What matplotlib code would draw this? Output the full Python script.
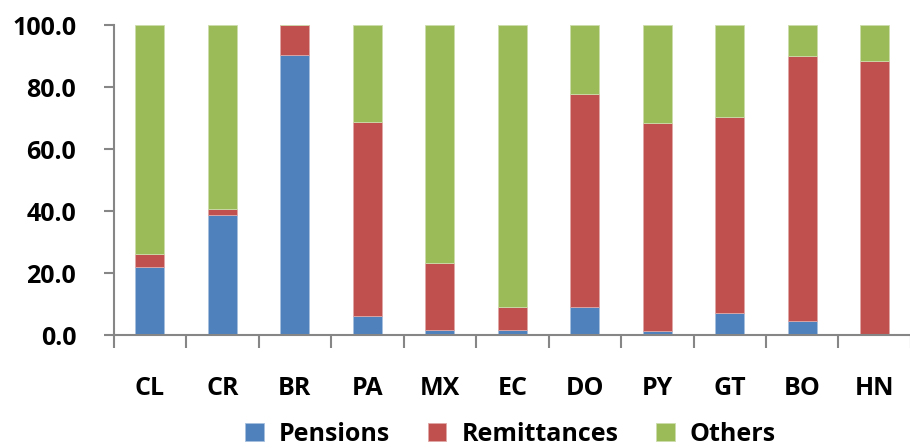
import matplotlib.pyplot as plt
import numpy as np

countries = ["CL", "CR", "BR", "PA", "MX", "EC", "DO", "PY", "GT", "BO", "HN"]
pensions = [22.0, 38.8, 90.3, 6.3, 1.8, 1.8, 9.0, 1.4, 7.0, 4.6, 0.5]
remittances = [4.1, 1.8, 9.7, 62.4, 21.6, 7.2, 68.8, 67.0, 63.5, 85.3, 88.0]
others = [100 - p - r for p, r in zip(pensions, remittances)]

plt.rcParams['font.family'] = ['Open Sans', 'DejaVu Sans']
plt.rcParams['font.weight'] = 'bold'
FS = 18

fig = plt.figure(figsize=(9.1, 4.48), dpi=100)
ax = fig.add_axes([0.125, 0.252, 0.876, 0.692])

x = np.arange(len(countries))
w = 0.4
ax.bar(x, pensions, w, color='#4F81BD', edgecolor='#A7C0DE', linewidth=0.6, label='Pensions')
ax.bar(x, remittances, w, bottom=pensions, color='#C0504D', edgecolor='#DFA8A6', linewidth=0.6, label='Remittances')
bottom2 = [p + r for p, r in zip(pensions, remittances)]
ax.bar(x, others, w, bottom=bottom2, color='#9BBB59', edgecolor='#CDDDAC', linewidth=0.6, label='Others')

ax.set_xlim(-0.5, len(countries) - 0.5)
ax.set_ylim(0, 100)
ax.set_yticks(np.arange(0, 101, 20))
ax.set_yticklabels([f"{v:.1f}" for v in range(0, 101, 20)], fontsize=FS, fontweight='bold')
ax.set_xticks(x)
ax.set_xticklabels(countries, fontsize=FS, fontweight='bold')
ax.set_xticks(np.arange(-0.5, len(countries)), minor=True)
ax.tick_params(axis='x', which='major', length=0, pad=29.5)
ax.tick_params(axis='x', which='minor', length=9, width=1.5, color='#868686')
ax.tick_params(axis='y', length=7, width=1.5, color='#868686', pad=20)

for s in ['top', 'right']:
    ax.spines[s].set_visible(False)
for s in ['left', 'bottom']:
    ax.spines[s].set_color('#868686')
    ax.spines[s].set_linewidth(1.5)

fig.legend(loc='center', bbox_to_anchor=(0.561, 0.03), ncol=3, frameon=False,
           prop={'size': FS, 'weight': 'bold'}, handlelength=0.75, handleheight=0.75,
           handletextpad=0.6, columnspacing=1.5, borderaxespad=0)

fig.savefig('out.png', dpi=100)
